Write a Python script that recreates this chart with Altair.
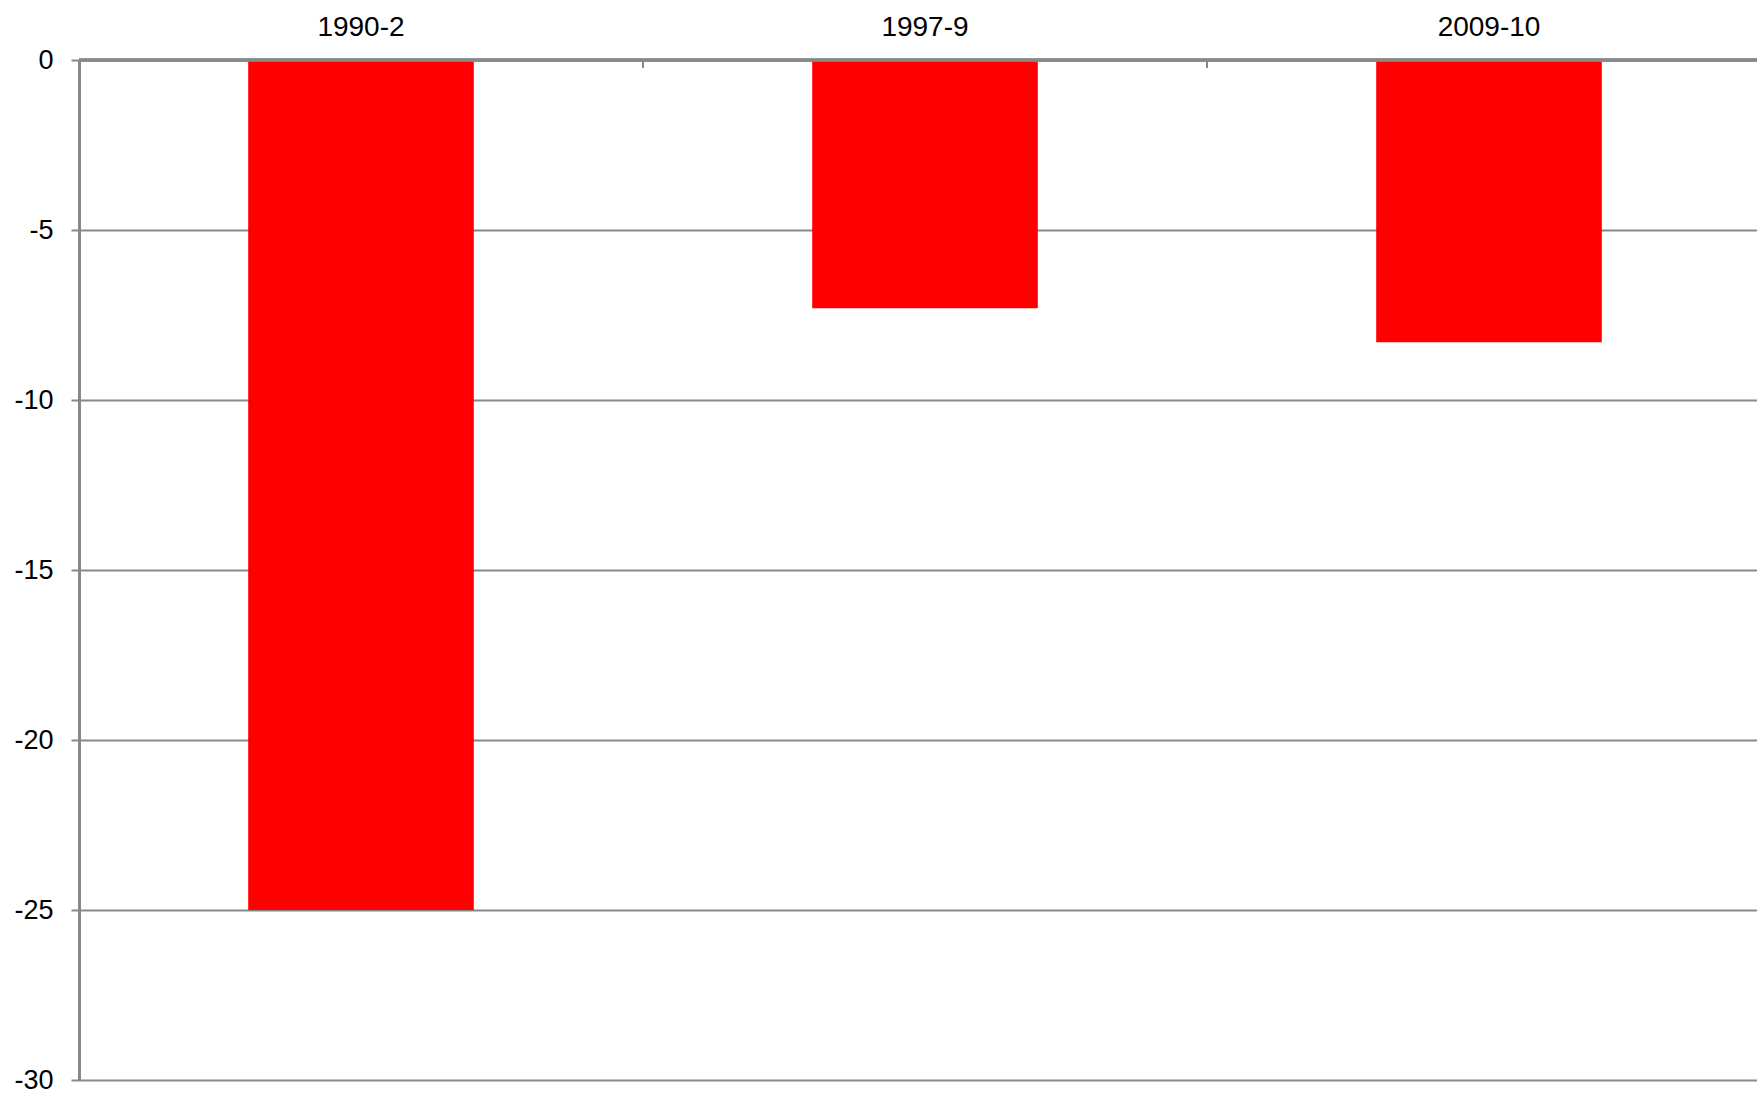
import altair as alt
import pandas as pd

# Change over each downturn
periods = ["1990-2", "1997-9", "2009-10"]
changes = [-25.0, -7.3, -8.3]

df = pd.DataFrame({"period": periods, "change": changes})

GRID = "#888888"
FONT = "Liberation Sans"

# The category bands run slightly past the right edge of the view
x_scale = alt.Scale(domain=periods, range=[0, 1692], paddingInner=0.6, paddingOuter=0.3)
# Same categories without padding: band starts fall on the category boundaries
edge_scale = alt.Scale(domain=periods, range=[0, 1692], paddingInner=0, paddingOuter=0)
y_scale = alt.Scale(domain=[-30, 0], nice=False)

bars = alt.Chart(df).mark_bar(color="#FF0000").encode(
    x=alt.X(
        "period:N",
        scale=x_scale,
        sort=periods,
        axis=alt.Axis(
            orient="top",
            title=None,
            labelAngle=0,
            labelFont=FONT,
            labelFontSize=28,
            labelColor="#000000",
            labelPadding=19,
            ticks=False,
            domain=False,
            grid=False,
        ),
    ),
    y=alt.Y(
        "change:Q",
        scale=y_scale,
        axis=alt.Axis(
            title=None,
            values=[0, -5, -10, -15, -20, -25, -30],
            labelExpr="'' + datum.value",
            labelFont=FONT,
            labelFontSize=27,
            labelColor="#000000",
            labelPadding=18,
            tickSize=8,
            tickWidth=2,
            tickColor=GRID,
            domainColor=GRID,
            domainWidth=3,
            gridColor=GRID,
            gridWidth=2,
            gridOpacity=1,
            labelFlush=False,
        ),
    ),
)

# Top baseline at zero
zero_line = alt.Chart(df).mark_rule(color=GRID, strokeWidth=3).encode(
    y=alt.datum(0, scale=y_scale)
)

# Category boundary tick marks hanging below the top baseline
boundary_ticks = alt.Chart(df).mark_rule(color=GRID, strokeWidth=2).encode(
    x=alt.X("period:N", scale=edge_scale, sort=periods, bandPosition=0, axis=None),
    y=alt.value(0),
    y2=alt.value(8),
)

chart = (
    alt.layer(bars, zero_line, boundary_ticks)
    .resolve_scale(x="independent")
    .properties(
        width=1678,
        height=1020,
        padding={"left": 79, "top": 60, "right": 0, "bottom": 16},
        autosize=alt.AutoSizeParams(type="none"),
        background="#FFFFFF",
    )
    .configure_view(stroke=None)
)

chart.save("out.html", embed_options={"renderer": "svg", "actions": False})
